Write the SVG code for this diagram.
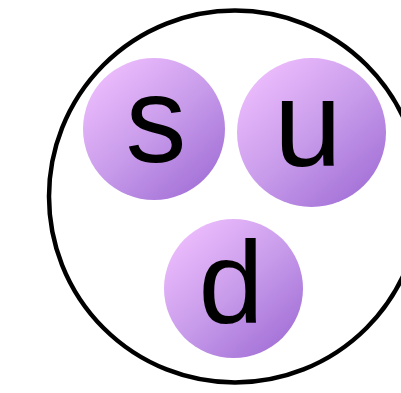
<svg xmlns="http://www.w3.org/2000/svg" width="401" height="393" viewBox="0 0 401 393">
  <defs>
    <linearGradient id="quarkGrad" x1="0.15" y1="0.1" x2="0.85" y2="0.9">
      <stop offset="0" stop-color="#ebbbfc"/>
      <stop offset="0.5" stop-color="#c99ceb"/>
      <stop offset="1" stop-color="#a573d8"/>
    </linearGradient>
    <filter id="soft" x="-5%" y="-5%" width="110%" height="110%">
      <feGaussianBlur stdDeviation="0.7"/>
    </filter>
  </defs>
  <style>
    .boundary { fill: none; stroke: #000; stroke-width: 4.5; }
    .quark { fill: url(#quarkGrad); filter: url(#soft); }
    .label { font-family: "Liberation Sans", Arial, sans-serif; fill: #000; text-anchor: middle; }
  </style>
  <rect width="401" height="393" fill="#fff"/>
  <g id="baryon">
    <circle class="boundary" cx="235" cy="196.5" r="186"/>
  </g>
  <g id="quark-s">
    <circle class="quark" cx="154" cy="129" r="71"/>
    <text class="label" x="156" y="162" font-size="122">s</text>
  </g>
  <g id="quark-u">
    <circle class="quark" cx="311.5" cy="132.5" r="74.5"/>
    <text class="label" x="308" y="166" font-size="122">u</text>
  </g>
  <g id="quark-d">
    <circle class="quark" cx="233.5" cy="288.5" r="69.5"/>
    <text class="label" x="231" y="323" font-size="117">d</text>
  </g>
  <g id="connectors"/>
</svg>
